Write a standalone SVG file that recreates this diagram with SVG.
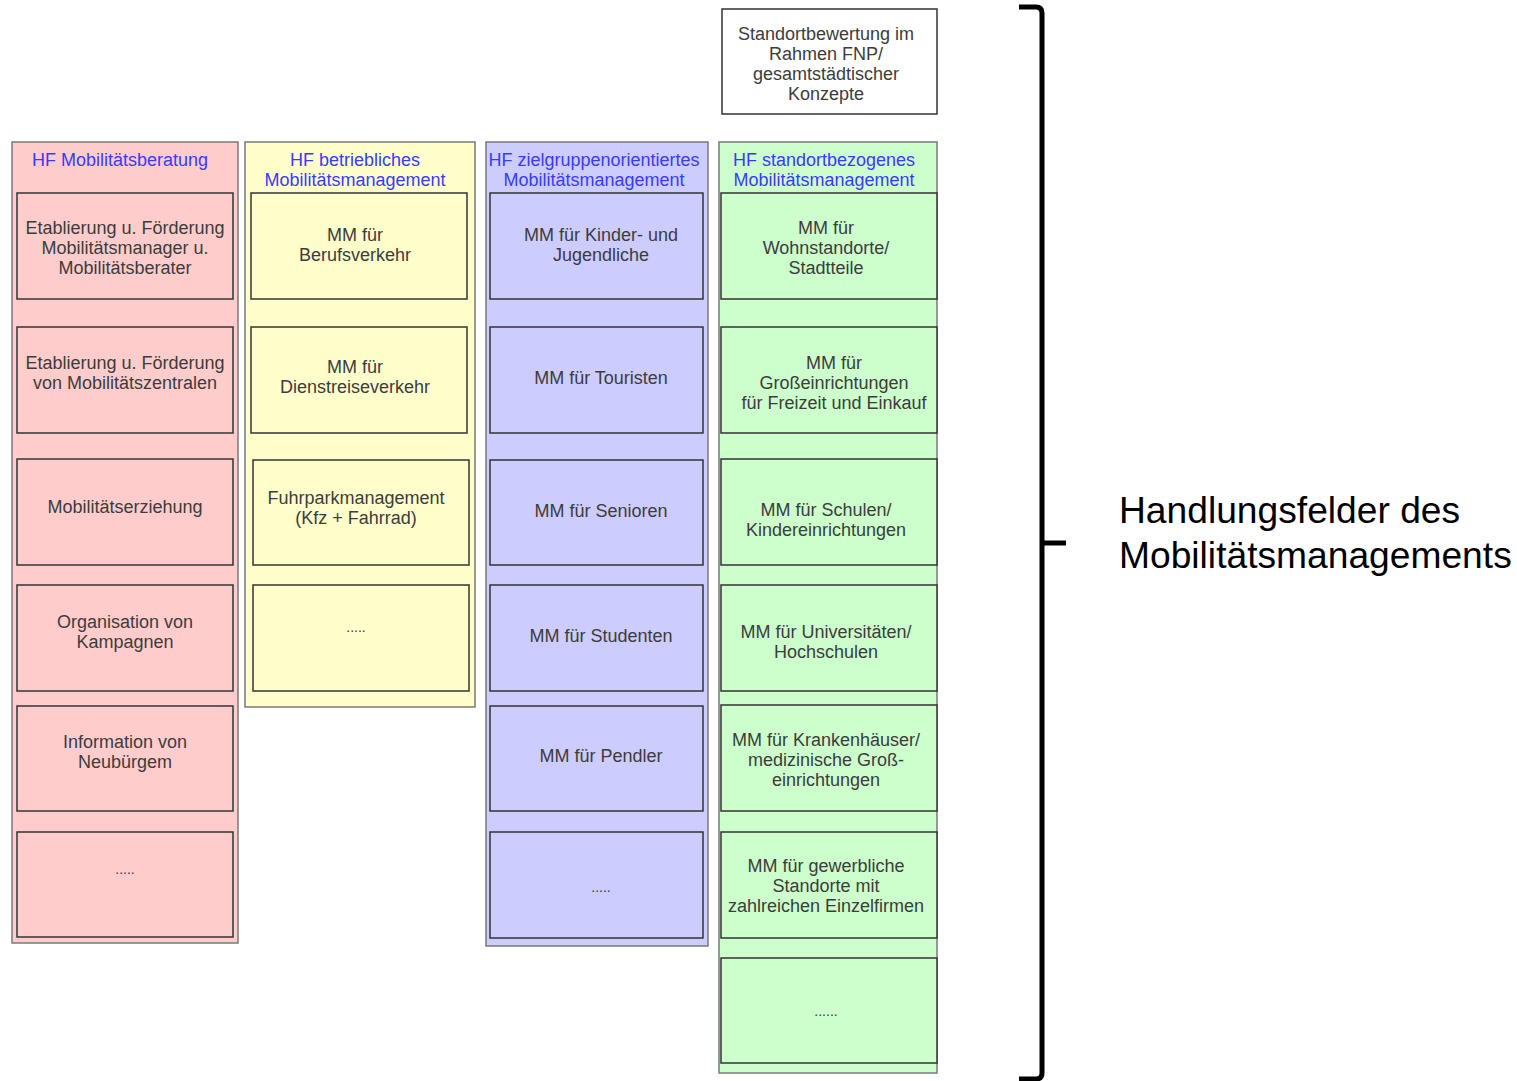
<svg xmlns="http://www.w3.org/2000/svg" width="1517" height="1081" viewBox="0 0 1517 1081">
<style>
.col{stroke:#7a7a7a;stroke-width:1.5}
.box{stroke:#333;stroke-width:1.5}
.pink{fill:#ffcccc}.yel{fill:#ffffcc}.blu{fill:#ccccff}.grn{fill:#ccffcc}
text{font-family:"Liberation Sans",Arial,sans-serif;font-size:18px;text-anchor:middle}
.t{fill:#3c3c3c}
.h{fill:#3a3aff}
.big{font-size:37.2px;fill:#000;text-anchor:start}
</style>
<rect width="1517" height="1081" fill="#fff"/>
<g id="top">
<rect x="722" y="9" width="215" height="105" fill="#fff" class="box"/>
<text class="t" x="826" y="40">Standortbewertung im</text>
<text class="t" x="826" y="60">Rahmen FNP/</text>
<text class="t" x="826" y="80">gesamtstädtischer</text>
<text class="t" x="826" y="100">Konzepte</text>
</g>
<g id="col1">
<rect x="12" y="142" width="226" height="801" class="col pink"/>
<text class="h" x="120" y="166">HF Mobilitätsberatung</text>
<g id="c1b1"><rect x="17" y="193" width="216" height="106" class="box pink"/>
<text class="t" x="125" y="234">Etablierung u. Förderung</text>
<text class="t" x="125" y="254">Mobilitätsmanager u.</text>
<text class="t" x="125" y="274">Mobilitätsberater</text></g>
<g id="c1b2"><rect x="17" y="327" width="216" height="106" class="box pink"/>
<text class="t" x="125" y="369">Etablierung u. Förderung</text>
<text class="t" x="125" y="389">von Mobilitätszentralen</text></g>
<g id="c1b3"><rect x="17" y="459" width="216" height="106" class="box pink"/>
<text class="t" x="125" y="513">Mobilitätserziehung</text></g>
<g id="c1b4"><rect x="17" y="585" width="216" height="106" class="box pink"/>
<text class="t" x="125" y="628">Organisation von</text>
<text class="t" x="125" y="648">Kampagnen</text></g>
<g id="c1b5"><rect x="17" y="706" width="216" height="105" class="box pink"/>
<text class="t" x="125" y="748">Information von</text>
<text class="t" x="125" y="768">Neubürgem</text></g>
<g id="c1b6"><rect x="17" y="832" width="216" height="105" class="box pink"/>
<text class="t" x="125" y="874" style="font-size:14px">.....</text></g>
</g>
<g id="col2">
<rect x="245" y="142" width="230" height="565" class="col yel"/>
<text class="h" x="355" y="166">HF betriebliches</text>
<text class="h" x="355" y="186">Mobilitätsmanagement</text>
<g id="c2b1"><rect x="251" y="193" width="216" height="106" class="box yel"/>
<text class="t" x="355" y="241">MM für</text>
<text class="t" x="355" y="261">Berufsverkehr</text></g>
<g id="c2b2"><rect x="251" y="327" width="216" height="106" class="box yel"/>
<text class="t" x="355" y="373">MM für</text>
<text class="t" x="355" y="393">Dienstreiseverkehr</text></g>
<g id="c2b3"><rect x="253" y="460" width="216" height="105" class="box yel"/>
<text class="t" x="356" y="504">Fuhrparkmanagement</text>
<text class="t" x="356" y="524">(Kfz + Fahrrad)</text></g>
<g id="c2b4"><rect x="253" y="585" width="216" height="106" class="box yel"/>
<text class="t" x="356" y="632" style="font-size:14px">.....</text></g>
</g>
<g id="col3">
<rect x="486" y="142" width="222" height="804" class="col blu"/>
<text class="h" x="594" y="166">HF zielgruppenorientiertes</text>
<text class="h" x="594" y="186">Mobilitätsmanagement</text>
<g id="c3b1"><rect x="490" y="193" width="213" height="106" class="box blu"/>
<text class="t" x="601" y="241">MM für Kinder- und</text>
<text class="t" x="601" y="261">Jugendliche</text></g>
<g id="c3b2"><rect x="490" y="327" width="213" height="106" class="box blu"/>
<text class="t" x="601" y="384">MM für Touristen</text></g>
<g id="c3b3"><rect x="490" y="460" width="213" height="105" class="box blu"/>
<text class="t" x="601" y="517">MM für Senioren</text></g>
<g id="c3b4"><rect x="490" y="585" width="213" height="106" class="box blu"/>
<text class="t" x="601" y="642">MM für Studenten</text></g>
<g id="c3b5"><rect x="490" y="706" width="213" height="105" class="box blu"/>
<text class="t" x="601" y="762">MM für Pendler</text></g>
<g id="c3b6"><rect x="490" y="832" width="213" height="106" class="box blu"/>
<text class="t" x="601" y="892" style="font-size:14px">.....</text></g>
</g>
<g id="col4">
<rect x="719" y="142" width="218" height="931" class="col grn"/>
<text class="h" x="824" y="166">HF standortbezogenes</text>
<text class="h" x="824" y="186">Mobilitätsmanagement</text>
<g id="c4b1"><rect x="721" y="193" width="216" height="106" class="box grn"/>
<text class="t" x="826" y="234">MM für</text>
<text class="t" x="826" y="254">Wohnstandorte/</text>
<text class="t" x="826" y="274">Stadtteile</text></g>
<g id="c4b2"><rect x="721" y="327" width="216" height="106" class="box grn"/>
<text class="t" x="834" y="369">MM für</text>
<text class="t" x="834" y="389">Großeinrichtungen</text>
<text class="t" x="834" y="409">für Freizeit und Einkauf</text></g>
<g id="c4b3"><rect x="721" y="459" width="216" height="106" class="box grn"/>
<text class="t" x="826" y="516">MM für Schulen/</text>
<text class="t" x="826" y="536">Kindereinrichtungen</text></g>
<g id="c4b4"><rect x="721" y="585" width="216" height="106" class="box grn"/>
<text class="t" x="826" y="638">MM für Universitäten/</text>
<text class="t" x="826" y="658">Hochschulen</text></g>
<g id="c4b5"><rect x="721" y="705" width="216" height="106" class="box grn"/>
<text class="t" x="826" y="746">MM für Krankenhäuser/</text>
<text class="t" x="826" y="766">medizinische Groß-</text>
<text class="t" x="826" y="786">einrichtungen</text></g>
<g id="c4b6"><rect x="721" y="832" width="216" height="106" class="box grn"/>
<text class="t" x="826" y="872">MM für gewerbliche</text>
<text class="t" x="826" y="892">Standorte mit</text>
<text class="t" x="826" y="912">zahlreichen Einzelfirmen</text></g>
<g id="c4b7"><rect x="721" y="958" width="216" height="105" class="box grn"/>
<text class="t" x="826" y="1016" style="font-size:14px">......</text></g>
</g>
<g id="connectors">
<path d="M1019,7 H1036 Q1042,7 1042,13 V1073 Q1042,1079 1036,1079 H1019 M1042,543 H1066" fill="none" stroke="#000" stroke-width="5"/>
</g>
<g id="label">
<text class="big" x="1119" y="523">Handlungsfelder des</text>
<text class="big" x="1119" y="568">Mobilitätsmanagements</text>
</g>
</svg>
